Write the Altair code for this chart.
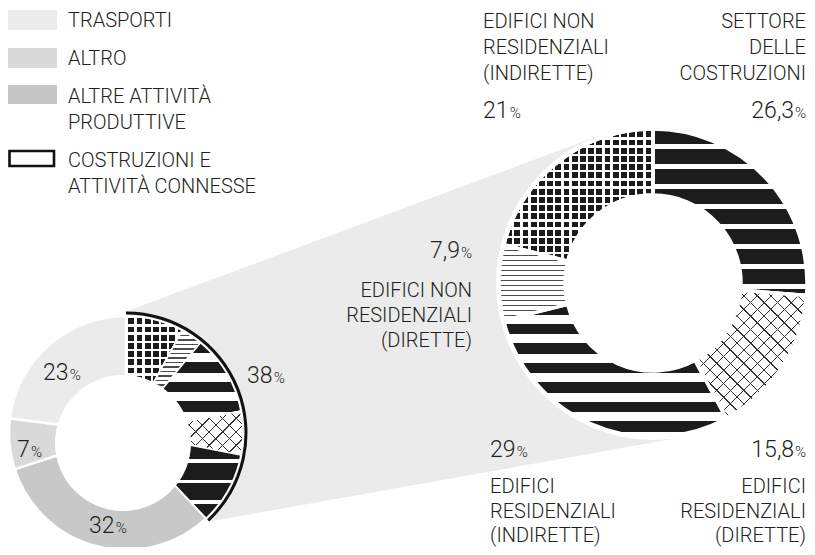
import math
import numpy as np
import pandas as pd
import altair as alt

# ---------------- data ----------------
sector_names = ["Costruzioni e attività connesse", "Altre attività produttive", "Altro", "Trasporti"]
sector_values = [38, 32, 7, 23]
legend_names = ["Trasporti", "Altro", "Altre attività produttive", "Costruzioni e attività connesse"]
legend_text = [["TRASPORTI"], ["ALTRO"], ["ALTRE ATTIVITÀ", "PRODUTTIVE"], ["COSTRUZIONI E", "ATTIVITÀ CONNESSE"]]

part_names = ["Settore delle costruzioni", "Edifici residenziali (dirette)", "Edifici residenziali (indirette)",
              "Edifici non residenziali (dirette)", "Edifici non residenziali (indirette)"]
part_values = [26.3, 15.8, 29.0, 7.9, 21.0]
part_text = [["SETTORE", "DELLE", "COSTRUZIONI"], ["EDIFICI", "RESIDENZIALI", "(DIRETTE)"],
             ["EDIFICI", "RESIDENZIALI", "(INDIRETTE)"], ["EDIFICI NON", "RESIDENZIALI", "(DIRETTE)"],
             ["EDIFICI NON", "RESIDENZIALI", "(INDIRETTE)"]]

# ---------------- style / layout ----------------
TAU = 2 * math.pi
W, H = 799, 539
FONT = "Roboto"
WEIGHT = 300
INK = "#231f20"
DARK = "#1c1c1c"
CLEAR = "rgba(255,255,255,0)"
OFF = 8  # page margin: reference pixel -> plot pixel
RIGHT = 806  # right edge of right-aligned labels (reference pixels)

sector_fill = {"Altre attività produttive": "#c8c8c8", "Altro": "#d9d9d9", "Trasporti": "#ebebeb"}
legend_fill = ["#ececec", "#dadada", "#c6c6c6", "white"]
part_kind = ["bars", "cross", "stripes", "lines", "grid"]

# small donut
SX, SY, S_OUT, S_IN = 126 - OFF, 433 - OFF, 117, 50
HX, HY, H_R = 123 - OFF, 443 - OFF, 68
RING_OUT, RING_IN = 121.5, 118.5
# big donut
BX, BY, B_OUT, B_IN, HALO = 653 - OFF, 283 - OFF, 154, 88, 157

one = pd.DataFrame({"k": [0]})
sector_df = pd.DataFrame({"name": sector_names, "value": sector_values, "order": list(range(4))})
part_df = pd.DataFrame({"name": part_names, "value": part_values, "ob": list(range(5)), "os": [4, 3, 2, 1, 0]})

cons_share = sector_values[0] / sum(sector_values)
SMALL_SPAN = TAU * cons_share


def fmt(v):
    v = float(v)
    return str(int(v)) if v.is_integer() else (f"{v:g}").replace(".", ",")


# ---------- gradient "patterns" ----------
def band_stops(extent, period, width, c_line, c_gap):
    stops = []
    k = 0
    while k * period < extent:
        a = k * period / extent
        b = min((k * period + width) / extent, 1.0)
        c = min((k + 1) * period / extent, 1.0)
        stops += [(a, c_line), (b, c_line), (b, c_gap), (c, c_gap)]
        k += 1
    out = []
    last = 0.0
    for o, col in stops:
        o = max(last, round(o, 5))
        out.append({"offset": o, "color": col})
        last = o
    return out


def grad_coords(direction, bw, bh):
    if direction == "v":
        return (0, 0, 0, 1), bh
    if direction == "h":
        return (0, 0, 1, 0), bw
    # 45-degree lines in pixel space inside a bw x bh bounding box
    k = (bw + bh) / (bw * bw + bh * bh)
    if direction == "d1":
        return (0, 0, k * bw, k * bh), bw + bh
    return (1, 0, 1 - k * bw, k * bh), bw + bh


def grad(direction, bw, bh, period, width, c_line, c_gap):
    (x1, y1, x2, y2), extent = grad_coords(direction, bw, bh)
    return {"gradient": "linear", "x1": round(x1, 5), "y1": round(y1, 5), "x2": round(x2, 5), "y2": round(y2, 5),
            "stops": band_stops(extent, period, width, c_line, c_gap)}


def seg_bbox(cx, cy, r_in, r_out, t0, t1):
    ts = np.linspace(t0, t1, 600)
    xs = np.concatenate([cx + r * np.sin(ts) for r in (r_in, r_out)])
    ys = np.concatenate([cy - r * np.cos(ts) for r in (r_in, r_out)])
    return xs.max() - xs.min(), ys.max() - ys.min()


def fills_for(kind, bw, bh, small):
    if kind == "bars":
        return [grad("v", bw, bh, 20.5 if small else 20, 17 if small else 15, DARK, "white")]
    if kind == "stripes":
        return [grad("v", bw, bh, 19.5, 10.5, DARK, "white")]
    if kind == "lines":
        return [grad("v", bw, bh, 4.5 if small else 5, 1.4, "#4d4d4d", "white")]
    if kind == "grid":
        p, g = 8.2, 2.4
        return [grad("v", bw, bh, p, g, "white", DARK), grad("h", bw, bh, p, g, "white", CLEAR)]
    if kind == "cross":
        s = 13.5
        return [grad("d1", bw, bh, s, 1.4, "#333333", "white"), grad("d2", bw, bh, s, 1.4, "#333333", CLEAR)]
    raise ValueError(kind)


def arc_chart(df, order_field, name, cx, cy, r_out, r_in, span, fill, sw):
    return (
        alt.Chart(df)
        .transform_stack(stack="value", groupby=[], as_=["v0", "v1"], offset="normalize",
                         sort=[alt.SortField(order_field, order="ascending")])
        .transform_filter(alt.datum.name == name)
        .transform_calculate(t0=f"datum.v0 * {span}", t1=f"datum.v1 * {span}")
        .mark_arc(radius=r_out, radius2=r_in, fill=fill, stroke="white", strokeWidth=sw)
        .encode(theta=alt.Theta("t0:Q", scale=None, stack=None), theta2=alt.Theta2("t1:Q"),
                x=alt.value(cx), y=alt.value(cy))
    )


def circle(cx, cy, r, fill):
    return alt.Chart(one).mark_arc(radius=r, theta=0, theta2=TAU, fill=fill).encode(
        x=alt.value(cx), y=alt.value(cy))


def text(x, y, s, align="left", size=20):
    return alt.Chart(one).mark_text(text=s, align=align, baseline="alphabetic", font=FONT, fontWeight=WEIGHT,
                                    fontSize=size, color=INK).encode(x=alt.value(x - OFF), y=alt.value(y - OFF))


NUM_SIZE, PCT_SIZE = 23, 15


def pct_label(x, y, value, align):
    s = fmt(value)
    w_num = sum(0.5615 if ch.isdigit() else 0.2 for ch in s) * NUM_SIZE
    w_pct = 0.73 * PCT_SIZE
    if align == "left":
        return [text(x, y, s, "left", NUM_SIZE), text(x + w_num + 1, y, "%", "left", PCT_SIZE)]
    return [text(x - w_pct - 1, y, s, "right", NUM_SIZE), text(x, y, "%", "right", PCT_SIZE)]


layers = []

# ---------- connecting wedge (tangents from the construction arc to the big donut) ----------
def tangent(P, C, R, sign):
    dx, dy = C[0] - P[0], C[1] - P[1]
    d = math.hypot(dx, dy)
    phi = math.atan2(dy, dx)
    a = math.asin(R / d)
    L = math.sqrt(d * d - R * R)
    ang = phi + sign * a
    return (P[0] + L * math.cos(ang), P[1] + L * math.sin(ang))


def lerp_y(P, Q, x):
    return P[1] + (Q[1] - P[1]) * (x - P[0]) / (Q[0] - P[0])


A = (SX, SY - RING_OUT)
D = (SX + RING_OUT * math.sin(SMALL_SPAN), SY - RING_OUT * math.cos(SMALL_SPAN))
T1 = tangent(A, (BX, BY), HALO, -1)
T2 = tangent(D, (BX, BY), HALO, +1)
wedge = pd.DataFrame({
    "x": [A[0], D[0], T1[0], T2[0]],
    "y": [A[1], lerp_y(A, T1, D[0]), T1[1], T2[1]],
    "y2": [A[1], D[1], lerp_y(D, T2, T1[0]), T2[1]],
})
xs = alt.Scale(domain=[0, W], nice=False, zero=False)
ys = alt.Scale(domain=[0, H], nice=False, zero=False, reverse=True)
layers.append(alt.Chart(wedge).mark_area(color="#ebebeb").encode(
    x=alt.X("x:Q", scale=xs, axis=None), y=alt.Y("y:Q", scale=ys, axis=None), y2="y2:Q"))

# ---------- big donut ----------
layers.append(circle(BX, BY, HALO, "white"))
cum = np.concatenate([[0], np.cumsum(part_values)]) / sum(part_values) * TAU
for i, name in enumerate(part_names):
    bw, bh = seg_bbox(BX, BY, B_IN, B_OUT, cum[i], cum[i + 1])
    for f in fills_for(part_kind[i], bw, bh, small=False):
        layers.append(arc_chart(part_df, "ob", name, BX, BY, B_OUT, B_IN, TAU, f, 3.5))

# ---------- small donut ----------
for name in sector_names[1:]:
    layers.append(arc_chart(sector_df, "order", name, SX, SY, S_OUT, S_IN, TAU, sector_fill[name], 2.5))
rev = part_values[::-1]
cum_s = np.concatenate([[0], np.cumsum(rev)]) / sum(rev) * SMALL_SPAN
for j, val in enumerate(rev):
    i = len(part_values) - 1 - j
    bw, bh = seg_bbox(SX, SY, S_IN, S_OUT, cum_s[j], cum_s[j + 1])
    for f in fills_for(part_kind[i], bw, bh, small=True):
        layers.append(arc_chart(part_df, "os", part_names[i], SX, SY, S_OUT, S_IN, SMALL_SPAN, f, 1.5))
# outline of construction share
layers.append(
    alt.Chart(sector_df)
    .transform_stack(stack="value", groupby=[], as_=["v0", "v1"], offset="normalize",
                     sort=[alt.SortField("order", order="ascending")])
    .transform_filter(alt.datum.name == sector_names[0])
    .transform_calculate(t0=f"datum.v0 * {TAU}", t1=f"datum.v1 * {TAU}")
    .mark_arc(radius=RING_OUT, radius2=RING_IN, fill="#111111")
    .encode(theta=alt.Theta("t0:Q", scale=None, stack=None), theta2=alt.Theta2("t1:Q"),
            x=alt.value(SX), y=alt.value(SY))
)
layers.append(circle(HX, HY, H_R, "white"))

# ---------- labels ----------
sector_label_pos = {  # reference pixels: x, baseline
    "Costruzioni e attività connesse": (247, 383),
    "Altre attività produttive": (89, 533),
    "Altro": (17, 457),
    "Trasporti": (43, 380),
}
for name, val in zip(sector_names, sector_values):
    x, y = sector_label_pos[name]
    layers += pct_label(x, y, val, "left")

part_label_pos = [  # align, x, number baseline, text baselines
    ("right", RIGHT, 118, [28, 54, 80]),
    ("right", RIGHT, 457, [493, 518, 542]),
    ("left", 490, 457, [493, 518, 542]),
    ("right", 472, 258, [297, 322, 347]),
    ("left", 483, 118, [28, 54, 80]),
]
for i, val in enumerate(part_values):
    align, x, yn, ylines = part_label_pos[i]
    layers += pct_label(x, yn, val, align)
    for line, yl in zip(part_text[i], ylines):
        layers.append(text(x, yl, line, align, 20))

# ---------- legend ----------
legend_rows = [(10, 30), (48, 68), (85, 104), (151, 166)]
legend_baselines = [[27], [65], [103, 129], [167, 193]]
for k, name in enumerate(legend_names):
    y0, y1 = legend_rows[k]
    if k < 3:
        layers.append(alt.Chart(one).mark_rect(fill=legend_fill[k]).encode(
            x=alt.value(8 - OFF), x2=alt.value(57 - OFF), y=alt.value(y0 - OFF), y2=alt.value(y1 - OFF)))
    else:
        layers.append(alt.Chart(one).mark_rect(fill="white", stroke="#111111", strokeWidth=2.6).encode(
            x=alt.value(9.5 - OFF), x2=alt.value(54 - OFF), y=alt.value(y0 - OFF), y2=alt.value(y1 - OFF)))
    for line, yl in zip(legend_text[k], legend_baselines[k]):
        layers.append(text(68, yl, line, "left", 20))

chart = (
    alt.layer(*layers)
    .properties(width=W, height=H, padding=0, autosize="none")
    .configure_view(stroke=None)
)
chart.save("out.html", embed_options={"renderer": "svg", "actions": False})
